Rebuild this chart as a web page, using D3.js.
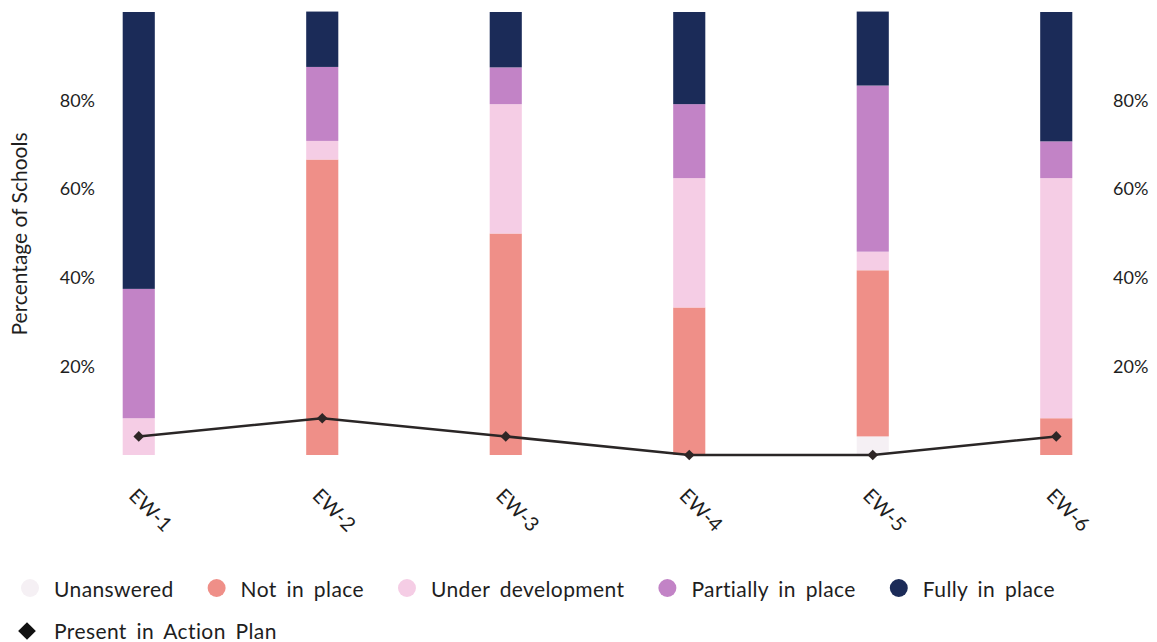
<!DOCTYPE html>
<html>
<head>
<meta charset="utf-8">
<script src="https://cdn.jsdelivr.net/npm/d3@7"></script>
<style>
  html, body { margin: 0; padding: 0; background: #ffffff; }
  svg { display: block; font-family: Lato, "Open Sans", sans-serif; }
</style>
</head>
<body>
<svg id="chart" width="1157" height="642"></svg>
<script>
// ---- data (% of schools) ----
const categories = ["EW-1", "EW-2", "EW-3", "EW-4", "EW-5", "EW-6"];
const unanswered = [0, 0, 0, 0, 4.2, 0];
const notInPlace = [0, 66.7, 50.0, 33.3, 37.5, 8.3];
const underDevelopment = [8.3, 4.2, 29.2, 29.2, 4.2, 54.2];
const partiallyInPlace = [29.2, 16.7, 8.3, 16.7, 37.5, 8.3];
const fullyInPlace = [62.5, 12.5, 12.5, 20.8, 16.7, 29.2];
const presentInActionPlan = [4.2, 8.3, 4.2, 0, 0, 4.2];
const yTickValues = [20, 40, 60, 80];
const seriesNames = ["Unanswered", "Not in place", "Under development", "Partially in place", "Fully in place"];
const lineName = "Present in Action Plan";
const yTitle = "Percentage of Schools";

// ---- styles ----
const colors = ["#f5f0f4", "#ef8f88", "#f5cde5", "#c283c6", "#1b2b58"];
const textColor = "#1e1e1e";

const svg = d3.select("#chart");

const x = d3.scaleBand()
  .domain(categories)
  .range([47, 1148])
  .paddingInner(0.825)
  .paddingOuter(0.4125);

const y = d3.scaleLinear().domain([0, 100]).range([455, 12]);

// build rows for stack
const seriesArrays = [unanswered, notInPlace, underDevelopment, partiallyInPlace, fullyInPlace];
const rows = categories.map((c, i) => {
  const r = { cat: c };
  seriesNames.forEach((n, k) => r[n] = seriesArrays[k][i]);
  return r;
});
const stacked = d3.stack().keys(seriesNames)(rows);

// bars
svg.append("g").selectAll("g")
  .data(stacked)
  .join("g")
  .attr("fill", (d, i) => colors[i])
  .selectAll("rect")
  .data(d => d)
  .join("rect")
  .attr("x", d => x(d.data.cat))
  .attr("width", x.bandwidth())
  .attr("y", d => y(d[1]))
  .attr("height", d => Math.max(0, y(d[0]) - y(d[1])));

// y axes (labels only)
const leftAxis = d3.axisLeft(y).tickValues(yTickValues).tickFormat(d => d + "%").tickSize(0).tickPadding(0);
const gl = svg.append("g").attr("transform", "translate(95,0)").call(leftAxis);
gl.select(".domain").remove();
gl.selectAll("text").attr("font-size", 18).attr("fill", textColor).attr("font-family", "Lato");

const rightAxis = d3.axisRight(y).tickValues(yTickValues).tickFormat(d => d + "%").tickSize(0).tickPadding(0);
const gr = svg.append("g").attr("transform", "translate(1113,0)").call(rightAxis);
gr.select(".domain").remove();
gr.selectAll("text").attr("font-size", 18).attr("fill", textColor).attr("font-family", "Lato");

// y title
svg.append("text")
  .attr("transform", "translate(27,234) rotate(-90)")
  .attr("text-anchor", "middle")
  .attr("font-size", 21)
  .attr("fill", textColor)
  .text(yTitle);

// x axis labels (rotated)
const xAxis = d3.axisBottom(x).tickSize(0).tickPadding(0);
const gx = svg.append("g").attr("transform", "translate(0,497)").call(xAxis);
gx.select(".domain").remove();
gx.selectAll("text")
  .attr("font-size", 20)
  .attr("font-family", "Lato")
  .attr("fill", textColor)
  .attr("text-anchor", "start")
  .attr("dy", 0)
  .attr("y", 0)
  .attr("transform", "translate(-11,0) rotate(45)");

// line: Present in Action Plan
const cx = c => x(c) + x.bandwidth() / 2;
const line = d3.line().x((d, i) => cx(categories[i])).y(d => y(d));
svg.append("path")
  .datum(presentInActionPlan)
  .attr("fill", "none")
  .attr("stroke", "#2a2626")
  .attr("stroke-width", 2.5)
  .attr("d", line);

const diamond = d3.symbol().type(d3.symbolDiamond2).size(72);
svg.append("g").selectAll("path")
  .data(presentInActionPlan)
  .join("path")
  .attr("transform", (d, i) => `translate(${cx(categories[i])},${y(d)})`)
  .attr("d", diamond)
  .attr("fill", "#2e2626");

// legend
const leg = svg.append("g");
let lx = 30;
seriesNames.forEach((n, i) => {
  leg.append("circle").attr("cx", lx).attr("cy", 588).attr("r", 9).attr("fill", colors[i]);
  const t = leg.append("text").attr("x", lx + 24).attr("y", 597)
    .attr("font-size", 21).attr("letter-spacing", 0.4).attr("word-spacing", 4)
    .attr("fill", textColor).text(n);
  lx = lx + 24 + t.node().getComputedTextLength() + 43;
});
leg.append("path")
  .attr("transform", "translate(27,631)")
  .attr("d", d3.symbol().type(d3.symbolDiamond2).size(200))
  .attr("fill", "#111111");
leg.append("text").attr("x", 54).attr("y", 639)
  .attr("font-size", 21).attr("letter-spacing", 0.4).attr("word-spacing", 4)
  .attr("fill", textColor).text(lineName);
</script>
</body>
</html>
